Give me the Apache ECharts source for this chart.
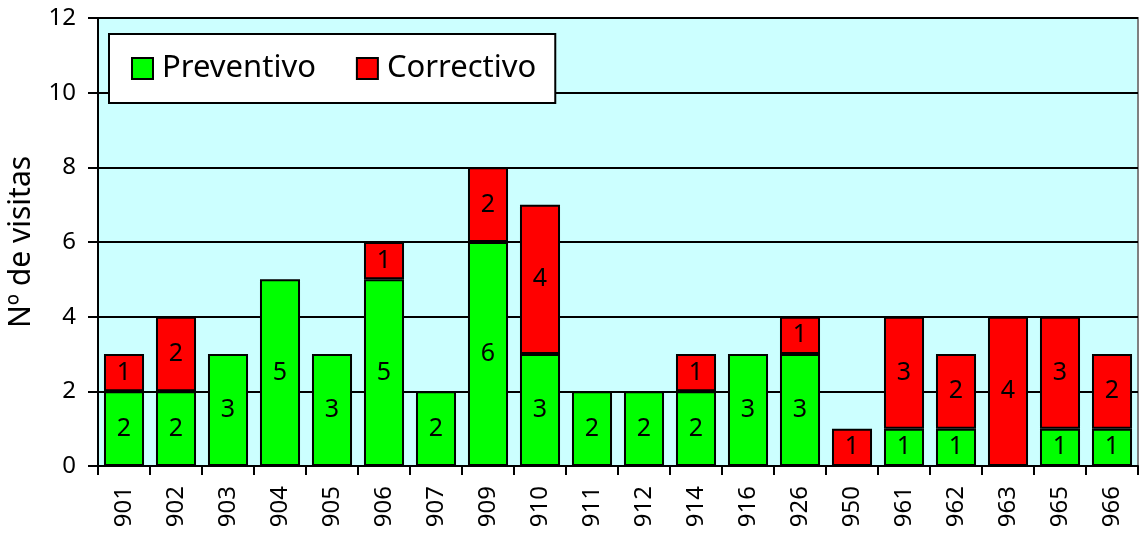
<!DOCTYPE html>
<html>
<head>
<meta charset="utf-8">
<script src="https://cdn.jsdelivr.net/npm/echarts@6/dist/echarts.min.js"></script>
<style>
  html, body { margin: 0; padding: 0; background: #fff; }
  #chart { width: 1142px; height: 534px; }
</style>
</head>
<body>
<div id="chart"></div>
<script>
// equipos
var categories = ['901', '902', '903', '904', '905', '906', '907', '909', '910', '911',
                  '912', '914', '916', '926', '950', '961', '962', '963', '965', '966'];
var preventivo = [2, 2, 3, 5, 3, 5, 2, 6, 3, 2, 2, 2, 3, 3, 0, 1, 1, 0, 1, 1];
var correctivo = [1, 2, 0, 0, 0, 1, 0, 2, 4, 0, 0, 1, 0, 1, 1, 3, 2, 4, 3, 2];
var yTicks = [0, 2, 4, 6, 8, 10, 12];

var font = 'Noto Sans';

// los ceros no se dibujan
function noZero(arr) {
  return arr.map(function (v) { return v === 0 ? '-' : v; });
}

var chart = echarts.init(document.getElementById('chart'));

var barLabel = {
  show: true,
  position: 'inside',
  color: '#000',
  fontFamily: font,
  fontSize: 25
};

chart.setOption({
  animation: false,
  backgroundColor: '#fff',
  textStyle: { fontFamily: font },
  grid: {
    left: 98, right: 4, top: 18, bottom: 68,
    outerBoundsMode: 'none',
    containLabel: false,
    show: true,
    backgroundColor: '#ccffff',
    borderColor: '#808080',
    borderWidth: 2
  },
  legend: {
    left: 109, top: 34,
    padding: [19, 19, 19, 22],
    backgroundColor: '#fff',
    borderColor: '#000',
    borderWidth: 2,
    borderRadius: 0,
    itemGap: 40,
    itemWidth: 21,
    itemHeight: 21,
    icon: 'rect',
    itemStyle: { borderColor: '#000', borderWidth: 2 },
    textStyle: {
      fontFamily: font, fontSize: 31, color: '#000',
      lineHeight: 31, padding: [0, 0, 0, 4]
    },
    data: ['Preventivo', 'Correctivo']
  },
  xAxis: {
    type: 'category',
    data: categories,
    axisLine: { lineStyle: { color: '#000', width: 2 } },
    axisTick: { show: true, length: 9, lineStyle: { color: '#000', width: 2 } },
    axisLabel: {
      rotate: 90,
      color: '#000',
      fontFamily: font,
      fontSize: 24,
      margin: 20
    }
  },
  yAxis: {
    type: 'value',
    min: 0, max: 12, interval: 2,
    name: 'Nº de visitas',
    nameLocation: 'middle',
    nameGap: 62,
    nameTextStyle: { fontFamily: font, fontSize: 30, color: '#000' },
    axisLine: { show: true, lineStyle: { color: '#000', width: 2 } },
    axisTick: { show: true, length: 10, lineStyle: { color: '#000', width: 2 } },
    axisLabel: {
      color: '#000', fontFamily: font, fontSize: 24, margin: 22,
      formatter: function (v) { return yTicks.indexOf(v) >= 0 ? String(v) : ''; }
    },
    splitLine: { show: true, lineStyle: { color: '#000', width: 2 } }
  },
  series: [
    {
      name: 'Preventivo',
      type: 'bar',
      stack: 'total',
      barCategoryGap: '23%',
      data: noZero(preventivo),
      itemStyle: { color: '#00ff00', borderColor: '#000', borderWidth: 2 },
      label: barLabel
    },
    {
      name: 'Correctivo',
      type: 'bar',
      stack: 'total',
      data: noZero(correctivo),
      itemStyle: { color: '#ff0000', borderColor: '#000', borderWidth: 2 },
      label: barLabel
    }
  ]
});
</script>
</body>
</html>
